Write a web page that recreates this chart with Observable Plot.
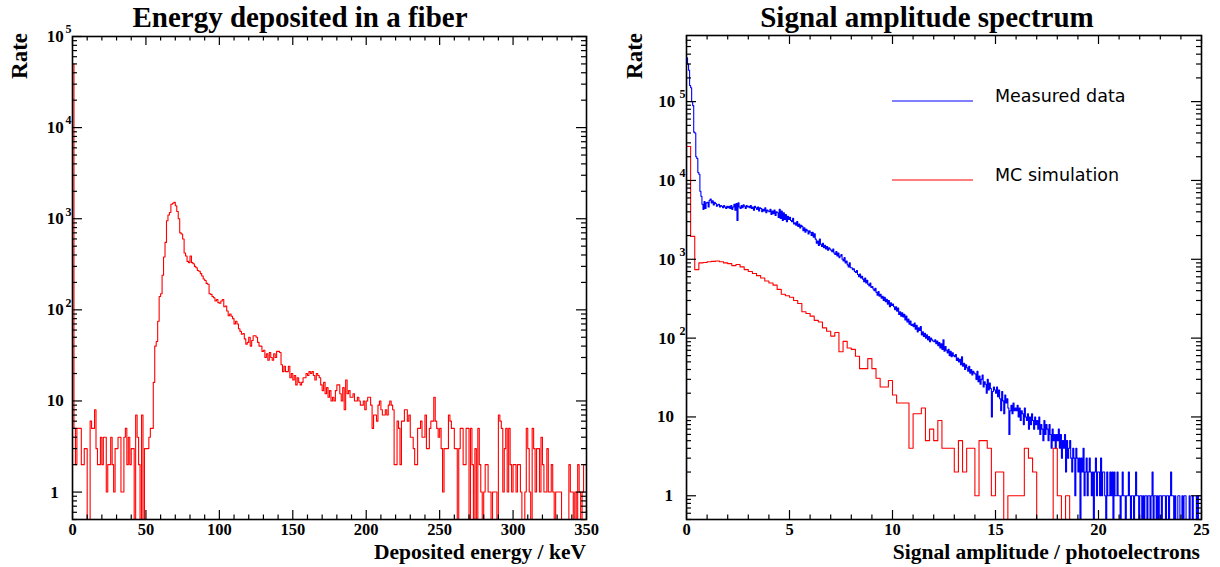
<!DOCTYPE html>
<html><head><meta charset="utf-8">
<script src="https://cdn.jsdelivr.net/npm/d3@7"></script>
<script src="https://cdn.jsdelivr.net/npm/@observablehq/plot@0.6"></script>
<style>
body{margin:0;background:#fff;}
#wrap{position:relative;width:1220px;height:567px;overflow:hidden;background:#fff;}
.panel{position:absolute;top:0;}
#overlay{position:absolute;left:0;top:0;pointer-events:none;}
#overlay text{font-family:"Liberation Serif",serif;font-weight:bold;fill:#000;}
#overlay .leg{font-family:"DejaVu Sans",sans-serif;font-weight:normal;font-size:17.5px;}
</style></head>
<body>
<div id="wrap">
<div id="p1" class="panel" style="left:0"></div>
<div id="p2" class="panel" style="left:610px"></div>
<svg id="overlay" width="1220" height="567">
  <text x="300" y="27" text-anchor="middle" font-size="29">Energy deposited in a fiber</text>
  <text x="927" y="27" text-anchor="middle" font-size="29">Signal amplitude spectrum</text>
  <text transform="translate(27,33) rotate(-90)" text-anchor="end" font-size="23">Rate</text>
  <text transform="translate(642,33) rotate(-90)" text-anchor="end" font-size="23">Rate</text>
  <text x="586" y="559" text-anchor="end" font-size="21.5">Deposited energy / keV</text>
  <text x="1200" y="559" text-anchor="end" font-size="21.5">Signal amplitude / photoelectrons</text>
  <line x1="892" x2="973" y1="101" y2="101" stroke="#0000ff" stroke-width="1.2"/>
  <line x1="892" x2="973" y1="180" y2="180" stroke="#ff0000" stroke-width="1.2"/>
  <text class="leg" x="995" y="102">Measured data</text>
  <text class="leg" x="995" y="181">MC simulation</text>
</svg>
</div>
<script>
// ---------- DATA ----------
// Left: energy deposited in a fiber, counts per 1 keV bin, 0..350 keV
const energyBinWidth = 1;
const energyCounts = [
50000,5,2,5,5,5,2,2,3,3,
0,0,6,5,5,8,3,2,2,4,
2,4,4,1,2,2,4,2,1,3,
3,4,4,1,1,4,5,2,4,2,
3,3,0,7,4,2,0,7,0,3,
3,3,4,5,5,16,40,45,75,140,
150,240,380,550,950,1100,1170,1440,1480,1510,
1390,1200,1000,700,680,600,420,390,340,330,
390,330,320,300,290,270,265,250,235,218,
210,195,191,150,148,140,136,125,130,120,
118,125,130,108,110,97,86,90,85,80,
70,75,70,62,58,54,55,48,42,44,
50,40,46,52,52,50,44,40,40,35,
36,30,33,28,34,30,28,33,30,35,
35,34,25,21,24,21,21,24,18,20,
17,19,15,18,16,15,16,18,18,20,
19,21,20,21,19,17,20,19,18,15,
13,16,12,14,11,13,10,11,10,13,
15,15,12,10,14,8,17,12,13,11,
11,12,10,10,11,10,9,9,10,8,
10,11,11,9,5,7,7,6,9,10,
8,7,7,8,7,9,10,9,8,2,
2,6,5,2,6,6,8,8,6,7,
4,4,3,2,2,5,5,6,4,4,
7,3,3,5,6,6,11,6,5,4,
5,3,1,3,3,3,7,6,5,5,
3,3,0,3,5,5,2,2,5,5,
0,5,2,0,3,0,5,2,1,0,
1,2,2,1,1,0,1,1,1,0,
7,6,5,1,3,5,1,5,2,1,
2,2,1,2,2,1,0,0,1,5,
3,1,0,5,3,1,3,3,1,4,
2,1,1,3,1,1,2,1,0,1,
1,1,1,0,0,0,0,0,2,1,
1,0,1,0,2,1,0,1,2,2
];
// Right: measured data, counts per 0.05 p.e. bin, 0..25 p.e.
const dataBinWidth = 0.05;
const dataCounts = [
360000,300000,250000,160000,150000,100000,89000,41000,40000,20000,19000,12600,12000,7300,6300,5000,4300,5400,4400,5200,
5300,4600,5600,5800,5200,5500,4900,5300,5100,4700,4900,5000,4600,4800,4700,4500,4800,4600,4400,4700,
4500,4700,4400,4800,4300,4600,5000,4200,5100,3100,5200,4600,4400,4800,4500,4900,4700,4400,4800,4600,
4700,4500,4800,4400,4600,4200,4700,4500,4300,4600,4100,4500,4400,4000,4300,4100,4500,3900,4200,4100,
4000,4300,3700,4100,3800,4200,3600,4000,3900,3400,4300,3300,4100,3100,3900,3200,3700,3000,3500,3200,
3400,3100,3000,3300,2800,2900,2700,3000,2600,2800,2500,2700,2600,2300,2500,2200,2400,2300,2100,2300,
2200,2000,2200,1900,2100,1800,1600,1700,1500,1800,1550,1450,1600,1400,1500,1350,1450,1300,1400,1350,
1300,1250,1350,1200,1150,1250,1100,1200,1050,1100,1150,1000,950,1050,900,950,850,800,900,780,
780,740,760,700,680,720,640,600,650,580,610,560,520,580,500,540,480,460,500,440,
450,420,400,430,380,350,390,340,360,320,340,300,330,290,310,270,300,250,280,260,
270,250,230,250,220,240,200,215,190,210,185,200,170,190,160,175,150,165,145,150,
140,155,130,145,120,135,125,140,110,120,105,115,100,110,95,105,90,100,95,92,
90,95,85,92,80,88,75,85,72,95,68,78,70,65,72,60,68,58,65,60,
58,62,52,56,50,54,46,58,44,48,40,46,42,38,44,36,40,34,38,36,
35,30,38,28,33,26,30,34,24,28,26,20,30,22,27,23,10,21,24,22,
20,24,18,22,17,12,21,16,11,19,15,17,13,6,12,14,11,15,12,13,
12,14,10,13,9,12,11,8,13,10,9,11,7,10,8,11,9,7,10,8,
9,7,10,6,8,7,5,9,6,8,7,5,8,6,4,7,5,6,4,6,
5,7,4,6,3,5,4,6,2,5,3,4,5,3,2,4,3,1,4,3,
2,3,0,3,2,4,1,2,3,1,2,3,2,1,2,0,2,3,1,2,
2,1,3,1,2,2,1,0,2,1,1,2,1,2,0,2,1,1,2,1,
1,0,1,2,1,1,0,1,1,2,1,0,1,1,0,1,2,1,1,0,
1,1,0,1,0,1,1,0,1,1,0,1,2,0,1,1,0,1,0,1,
1,0,1,1,1,0,1,1,0,1,2,1,1,0,1,0,0,1,1,0,
0,1,0,1,1,0,0,0,1,0,0,1,0,0,0,1,0,1,1,1
];
// Right: MC simulation, counts per 0.2 p.e. bin, 0..25 p.e.
const mcBinWidth = 0.2;
const mcCounts = [
27000,1950,740,900,910,930,940,950,930,900,
880,830,860,800,740,700,660,620,580,530,
500,470,415,360,345,330,300,275,216,205,
190,168,160,135,122,106,118,67,91,75,
72,59,41,41,55,41,31,24,24,29,
19,15,15,15,4,11,11,13,5,7,
5,9,4,4,4,2,5,2,4,4,
1,5,5,4,1,2,2,0,1,1,
1,1,4,3,2,0,0,0,0,4,
1,0,1,0,0,0,0,0,0,0,
0,0,0,0,0,0,0,0,0,0,
0,0,0,0,0,0,0,0,0,0,
0,0,0,0,0
];
// Axis ticks and labels
const energyMajor = [0,50,100,150,200,250,300,350];
const energyMinor = [10,20,30,40,60,70,80,90,110,120,130,140,160,170,180,190,210,220,230,240,260,270,280,290,310,320,330,340];
const ampMajor = [0,5,10,15,20,25];
const ampMinor = [1,2,3,4,6,7,8,9,11,12,13,14,16,17,18,19,21,22,23,24];
const decades = [1,10,100,1000,10000,100000];
const decadeBase = ["1","10","10","10","10","10"];
const decadeExp = ["","","2","3","4","5"];
const minorMultipliers = [2,3,4,5,6,7,8,9];

// ---------- HELPERS ----------
const FLOOR = 0.1; // empty bins drawn below the log axis (clipped)
function histPoints(counts, w) {
  const pts = [{x: 0, y: FLOOR}];
  counts.forEach((c, i) => pts.push({x: i * w, y: c > 0 ? c : FLOOR}));
  const n = counts.length, last = counts[n - 1];
  pts.push({x: n * w, y: last > 0 ? last : FLOOR});
  pts.push({x: n * w, y: FLOOR});
  return pts;
}
function logMinor(ymin, ymax) {
  const out = [];
  [0.1, ...decades].forEach(d => minorMultipliers.forEach(m => {
    const v = d * m; if (v >= ymin && v <= ymax) out.push(v);
  }));
  return out;
}

function panel(opts) {
  const {width, height, mL, mR, mT, mB, xDomain, yDomain, series, xMajor, xMinor, yLab, xFormat} = opts;
  const innerH = height - mT - mB, innerW = width - mL - mR;
  const yMaj = decades.filter(d => d >= yDomain[0] && d <= yDomain[1]);
  const yMin = logMinor(yDomain[0], yDomain[1]);
  const labRows = decades.map((d, i) => ({v: d, b: decadeBase[i], e: decadeExp[i]}));
  const tickStyle = {stroke: "black", strokeWidth: 1.2};
  return Plot.plot({
    width, height, marginLeft: mL, marginRight: mR, marginTop: mT, marginBottom: mB,
    x: {domain: xDomain, axis: null},
    y: {type: "log", domain: yDomain, axis: null},
    style: {fontFamily: "Liberation Serif, serif", fontWeight: "bold", background: "transparent", overflow: "visible"},
    marks: [
      ...series.map(s => Plot.line(histPoints(s.counts, s.w), {x: "x", y: "y", curve: "step-after", stroke: s.color, strokeWidth: 1.1, clip: true})),
      // x ticks (inside, bottom and top)
      Plot.tickX(xMajor, {x: d => d, insetTop: innerH - 9, ...tickStyle}),
      Plot.tickX(xMinor, {x: d => d, insetTop: innerH - 4.5, ...tickStyle}),
      Plot.tickX(xMajor, {x: d => d, insetBottom: innerH - 9, ...tickStyle}),
      Plot.tickX(xMinor, {x: d => d, insetBottom: innerH - 4.5, ...tickStyle}),
      // y ticks (inside, left and right)
      Plot.tickY(yMaj, {y: d => d, insetRight: innerW - 10, ...tickStyle}),
      Plot.tickY(yMin, {y: d => d, insetRight: innerW - 5, ...tickStyle}),
      Plot.tickY(yMaj, {y: d => d, insetLeft: innerW - 10, ...tickStyle}),
      Plot.tickY(yMin, {y: d => d, insetLeft: innerW - 5, ...tickStyle}),
      Plot.frame({stroke: "black", strokeWidth: 1.6}),
      // x labels
      Plot.text(xMajor, {x: d => d, frameAnchor: "bottom", text: xFormat, dy: 10.5, fontSize: 16.5, lineAnchor: "middle"}),
      // y labels
      Plot.text(labRows.filter(r => r.v === 1), {y: "v", frameAnchor: "left", text: "b", textAnchor: "end", dx: yLab.one, fontSize: 17}),
      Plot.text(labRows.filter(r => r.v === 10), {y: "v", frameAnchor: "left", text: "b", textAnchor: "end", dx: yLab.ten, fontSize: 17}),
      Plot.text(labRows.filter(r => r.v > 10 && r.v <= yDomain[1]), {y: "v", frameAnchor: "left", text: "b", textAnchor: "end", dx: yLab.pow, fontSize: 17}),
      Plot.text(labRows.filter(r => r.v > 10 && r.v <= yDomain[1]), {y: "v", frameAnchor: "left", text: "e", textAnchor: "start", dx: yLab.exp, dy: -7, fontSize: 12})
    ]
  });
}

document.getElementById("p1").append(panel({
  width: 610, height: 567, mL: 72, mR: 24, mT: 36, mB: 48,
  xDomain: [0, 350], yDomain: [0.5, 1e5],
  series: [{counts: energyCounts, w: energyBinWidth, color: "#ff0000"}],
  xMajor: energyMajor, xMinor: energyMinor,
  yLab: {one: -13.7, ten: -8.7, pow: -8.7, exp: -7},
  xFormat: d => String(d)
}));
document.getElementById("p2").append(panel({
  width: 610, height: 567, mL: 76, mR: 19, mT: 35, mB: 48,
  xDomain: [0, 25], yDomain: [0.5, 6.9e5],
  series: [
    {counts: dataCounts, w: dataBinWidth, color: "#0000ff"},
    {counts: mcCounts, w: mcBinWidth, color: "#ff0000"}
  ],
  xMajor: ampMajor, xMinor: ampMinor,
  yLab: {one: -13.6, ten: -12.5, pow: -11.3, exp: -7},
  xFormat: d => String(d)
}));
</script>
</body></html>
